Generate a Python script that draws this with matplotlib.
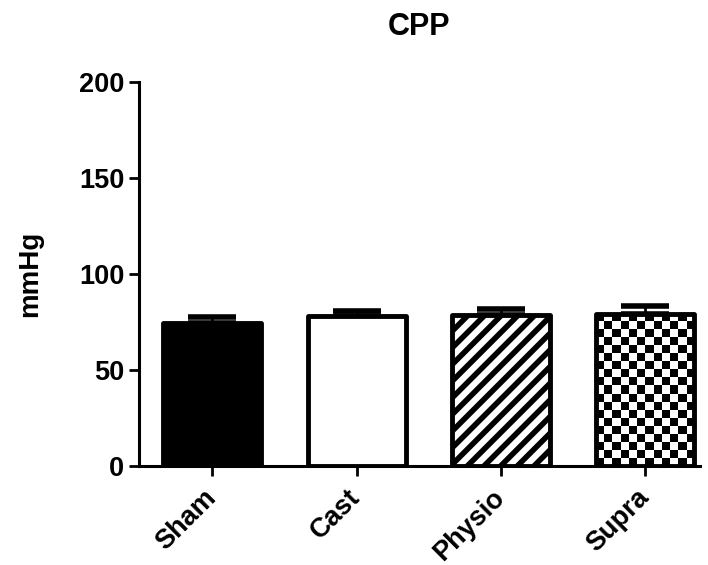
import numpy as np
import matplotlib
matplotlib.use('Agg')
import matplotlib.pyplot as plt

# values
groups = ['Sham', 'Cast', 'Physio', 'Supra']
meanCPP = [74.7, 78.1, 78.6, 79.2]
semCPP = [2.9, 2.6, 3.2, 4.1]
yTicks = [0, 50, 100, 150, 200]

plt.rcParams['font.family'] = ['Liberation Sans', 'DejaVu Sans']
plt.rcParams['font.weight'] = 'bold'
plt.rcParams['hatch.linewidth'] = 4.0
plt.rcParams['hatch.color'] = 'black'

fig = plt.figure(figsize=(7.08, 5.65), dpi=100)
ax = fig.add_axes([0.196, 0.175, 0.793, 0.68])

x = np.arange(len(groups))
width = 0.68
faces = ['black', 'white', 'white', 'none']
hatches = ['', '', '//', '']

bars = ax.bar(x, meanCPP, width, color=faces, edgecolor='black', linewidth=3.5, zorder=2)
for b, h in zip(bars, hatches):
    b.set_joinstyle('round')
    if h:
        b.set_hatch(h)

# upper error bars only
ax.errorbar(x, meanCPP, yerr=[np.zeros(len(x)), semCPP], fmt='none', ecolor='black',
            elinewidth=2, capsize=17, capthick=4, zorder=1)

# checkerboard fill for the last bar
sb = bars[3]
nx, ny = 12, 19
checker = np.indices((ny, nx)).sum(axis=0) % 2
img = ax.imshow(checker, cmap='gray', interpolation='nearest', aspect='auto',
                extent=(sb.get_x(), sb.get_x() + sb.get_width(), 0, sb.get_height()),
                zorder=1.5)
img.set_clip_path(sb)

ax.set_xlim(-0.51, 3.38)
ax.set_ylim(0, 200)
ax.set_yticks(yTicks)
ax.set_xticks(x)
ax.set_xticklabels(groups, rotation=45, ha='right', va='center', rotation_mode='anchor')

for s in ['top', 'right']:
    ax.spines[s].set_visible(False)
for s in ['left', 'bottom']:
    ax.spines[s].set_linewidth(2.2)

ax.tick_params(axis='both', width=2, length=7, labelsize=19.5, pad=3.5)
ax.tick_params(axis='x', length=7, pad=13)
ax.set_ylabel('mmHg', fontsize=20, fontweight='bold', labelpad=26)
ax.set_title('CPP', fontsize=22, fontweight='bold', pad=34)

plt.savefig('out.png', dpi=100)
